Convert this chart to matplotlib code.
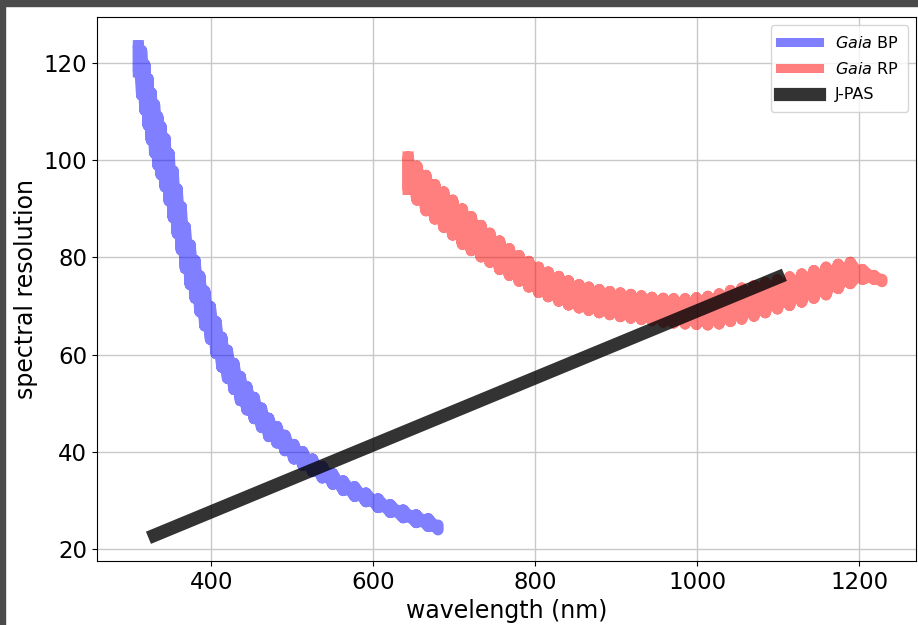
import numpy as np
import matplotlib
matplotlib.use("Agg")
import matplotlib.pyplot as plt
from matplotlib.patches import Rectangle

# Gaia BP: sample wavelengths with lower / upper resolution of each tooth
bp_wave = [310, 314, 318, 322, 326, 330, 334, 338, 343, 348, 353, 358, 363, 368,
           374, 380, 386, 392, 399, 406, 413, 420, 428, 436, 444, 453, 462, 471,
           481, 491, 502, 513, 525, 537, 550, 563, 577, 591, 606, 621, 637, 653,
           668, 680]
bp_lo = [118.2, 113.4, 110.3, 107.2, 104.1, 101.5, 99.0, 97.0, 94.5, 91.6, 88.2,
         84.9, 81.5, 77.7, 74.4, 71.6, 68.8, 65.9, 63.1, 60.2, 57.4, 55.1, 52.8,
         50.5, 48.6, 46.8, 45.0, 43.1, 41.8, 40.2, 38.5, 37.2, 35.9, 34.6, 33.3,
         32.0, 30.8, 29.7, 28.5, 27.5, 26.4, 25.4, 24.6, 23.9]
bp_hi = [123.6, 122.6, 119.7, 116.8, 113.9, 111.5, 109.0, 107.0, 104.5, 101.4, 97.8,
         94.1, 90.5, 86.3, 82.6, 79.4, 76.2, 73.1, 69.9, 66.8, 63.6, 60.9, 58.2,
         55.5, 53.4, 51.2, 49.0, 46.9, 45.2, 43.4, 41.5, 40.0, 38.5, 37.0, 35.5,
         34.0, 32.8, 31.5, 30.3, 29.1, 28.0, 27.0, 26.2, 24.9]

# Gaia RP
rp_wave = [643, 654, 665, 676, 687, 698, 710, 721, 733, 744, 756, 768, 780, 792,
           804, 816, 829, 841, 854, 866, 879, 892, 905, 918, 931, 944, 958, 971,
           985, 999, 1013, 1027, 1041, 1055, 1070, 1084, 1099, 1114, 1129, 1144,
           1159, 1174, 1189, 1204, 1218, 1228]
rp_lo = [94.0, 91.8, 89.6, 87.9, 86.2, 84.6, 82.7, 81.4, 80.1, 79.0, 77.5, 76.3,
         75.1, 73.9, 72.8, 71.9, 71.0, 70.2, 69.6, 69.1, 68.6, 68.2, 67.8, 67.5,
         67.2, 67.0, 66.7, 66.5, 66.3, 66.2, 66.1, 66.3, 66.8, 67.3, 67.9, 68.6,
         69.4, 70.1, 70.8, 71.6, 72.3, 73.6, 74.6, 75.5, 75.5, 75.0]
rp_hi = [100.7, 98.8, 96.9, 95.0, 93.5, 91.8, 90.0, 88.4, 86.6, 85.0, 83.4, 81.8,
         80.4, 79.2, 78.0, 77.0, 76.1, 75.2, 74.4, 73.9, 73.4, 73.0, 72.7, 72.4,
         72.1, 71.8, 71.6, 71.5, 71.5, 71.7, 72.0, 72.5, 73.2, 73.7, 74.2, 74.8,
         75.4, 76.0, 76.6, 77.3, 78.0, 78.6, 79.0, 77.5, 76.3, 75.5]

# J-PAS (constant 14.5 nm filter width)
jpas_wave = [330, 1100]
jpas_res = [22.8, 75.9]


def teeth(w, lo, hi):
    # zigzag forward through lo->hi of each sample, back along the other diagonals
    x = np.repeat(w, 2)
    fwd = np.column_stack([lo, hi]).ravel()
    back = np.column_stack([hi, lo]).ravel()[::-1]
    return np.concatenate([x, x[::-1]]), np.concatenate([fwd, back])


fig = plt.figure(figsize=(9.18, 6.25), dpi=100)
fig.subplots_adjust(left=0.1057, right=0.9978, bottom=0.1024, top=0.9728)
ax = fig.add_subplot(111)

# dark screenshot frame
fig.patches.append(Rectangle((0, 1 - 6 / 625), 1, 6 / 625, transform=fig.transFigure,
                             color='#4b4b4b', zorder=10))
fig.patches.append(Rectangle((0, 0), 5 / 918, 1, transform=fig.transFigure,
                             color='#4b4b4b', zorder=10))

x, y = teeth(bp_wave, bp_lo, bp_hi)
ax.plot(x, y, color='b', alpha=0.5, lw=8, label=r'$\mathit{Gaia}$ BP')
x, y = teeth(rp_wave, rp_lo, rp_hi)
ax.plot(x, y, color='r', alpha=0.5, lw=8, label=r'$\mathit{Gaia}$ RP')
ax.plot(jpas_wave, jpas_res, color='k', alpha=0.8, lw=9.5, label='J-PAS')

ax.set_xlim(259, 1270)
ax.set_ylim(17.5, 129.5)
ax.set_xticks([400, 600, 800, 1000, 1200])
ax.set_yticks([20, 40, 60, 80, 100, 120])
ax.tick_params(labelsize=16.5)
ax.grid(True, color='#c8c8c8', lw=1)
ax.set_xlabel('wavelength (nm)', fontsize=17)
ax.set_ylabel('spectral resolution', fontsize=17)
leg = ax.legend(loc='upper right', fontsize=11.5, handlelength=2.4, handletextpad=1.0,
                labelspacing=0.65, borderpad=0.6)
for line in leg.get_lines()[:2]:
    line.set_linewidth(6.5)

fig.savefig('out.png', dpi=100)
